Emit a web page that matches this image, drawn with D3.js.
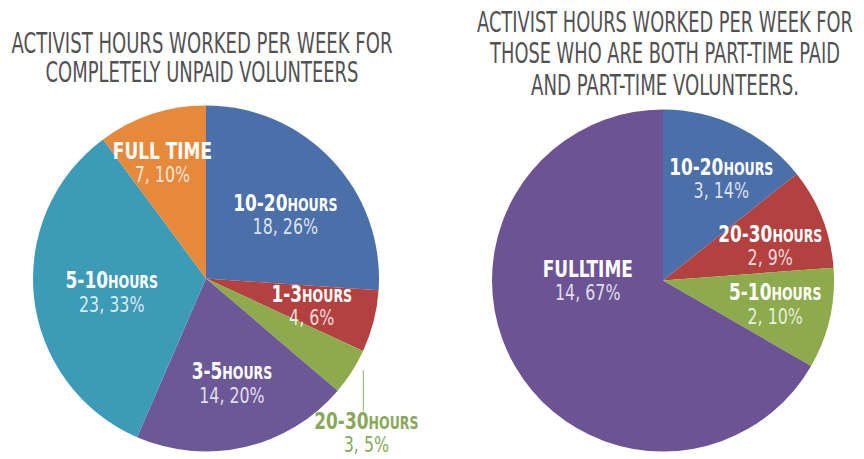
<!DOCTYPE html>
<html>
<head>
<meta charset="utf-8">
<script src="https://cdn.jsdelivr.net/npm/d3@7/dist/d3.min.js"></script>
<style>
  body { margin: 0; background: #fff; }
  svg { display: block; }
</style>
</head>
<body>
<div id="chart"></div>
<script>
// Left pie: completely unpaid volunteers
const unpaidCategories = ['10-20HOURS', '1-3HOURS', '20-30HOURS', '3-5HOURS', '5-10HOURS', 'FULL TIME'];
const unpaidCounts = [18, 4, 3, 14, 23, 7];
const unpaidPercents = [26, 6, 5, 20, 33, 10];
const unpaidTitle = ['ACTIVIST HOURS WORKED PER WEEK FOR', 'COMPLETELY UNPAID VOLUNTEERS'];

// Right pie: part-time paid + part-time volunteers
const mixedCategories = ['10-20HOURS', '20-30HOURS', '5-10HOURS', 'FULLTIME'];
const mixedCounts = [3, 2, 2, 14];
const mixedPercents = [14, 9, 10, 67];
const mixedTitle = ['ACTIVIST HOURS WORKED PER WEEK FOR', 'THOSE WHO ARE BOTH PART-TIME PAID', 'AND PART-TIME VOLUNTEERS.'];

const width = 864, height = 459;
const FONT = "'Liberation Sans Narrow', 'DejaVu Sans Condensed', 'Arial Narrow', sans-serif";
const LABEL_SQUEEZE = 0.82;

const svg = d3.select('#chart').append('svg')
  .attr('width', width)
  .attr('height', height);

// label placement: radius factor + angle (deg, clockwise from top), or outside leader
const unpaidLayout = {
  cx: 206, cy: 278.5, r: 173,
  colors: ['#4a6fa9', '#b3413f', '#8dab4d', '#6c5896', '#3c9bb7', '#e6893b'],
  labels: [
    { k: 0.59, angle: 51 }, { k: 0.63, angle: 104 }, { outside: true },
    { k: 0.62, angle: 166 }, { k: 0.55, angle: 262 }, { k: 0.72, angle: 339.5 }
  ],
  titleX: 202, titleY: [53, 82], titleLen: [381, 313]
};

const mixedLayout = {
  cx: 663, cy: 280.5, r: 171,
  colors: ['#4a6fa9', '#b3413f', '#8dab4d', '#6c5494'],
  labels: [
    { k: 0.69, angle: 29.6 }, { k: 0.66, angle: 71.9 },
    { k: 0.67, angle: 101.6 }, { k: 0.44, angle: 270 }
  ],
  titleX: 665, titleY: [31.7, 63.3, 95], titleLen: [376, 350, 268]
};

function drawTitle(lines, layout) {
  lines.forEach((line, i) => {
    const g = svg.append('g');
    const t = g.append('text')
      .attr('x', 0)
      .attr('y', 0)
      .attr('text-anchor', 'middle')
      .style('font-family', FONT)
      .style('font-size', '27.5px')
      .style('fill', '#525252')
      .text(line);
    // squeeze horizontally to the condensed width of the original lettering
    const sx = layout.titleLen[i] / t.node().getComputedTextLength();
    g.attr('transform', `translate(${layout.titleX},${layout.titleY[i]}) scale(${sx},1)`);
  });
}

function addLabel(g, x, y, name, count, pct, color, valueColor) {
  const parts = name.match(/^(.*?)(HOURS)?$/);
  const lg = g.append('g')
    .attr('transform', `translate(${x},${y}) scale(${LABEL_SQUEEZE},1)`);

  const t = lg.append('text')
    .attr('text-anchor', 'middle')
    .style('font-family', FONT)
    .style('font-weight', 'bold')
    .style('fill', color);
  t.append('tspan').style('font-size', '23px').text(parts[1]);
  if (parts[2]) t.append('tspan').style('font-size', '17px').text(parts[2]);

  lg.append('text')
    .attr('y', 23.3)
    .attr('text-anchor', 'middle')
    .style('font-family', FONT)
    .style('font-size', '21.5px')
    .style('fill', valueColor)
    .text(`${count}, ${pct}%`);
}

function drawPie(categories, counts, percents, layout) {
  const data = categories.map((c, i) => ({
    name: c, count: counts[i], pct: percents[i],
    color: layout.colors[i], label: layout.labels[i]
  }));

  const pie = d3.pie().sort(null).value(d => d.count);
  const arc = d3.arc().innerRadius(0).outerRadius(layout.r);
  const arcs = pie(data);

  const g = svg.append('g')
    .attr('transform', `translate(${layout.cx},${layout.cy})`);

  g.selectAll('path.slice')
    .data(arcs)
    .join('path')
    .attr('class', 'slice')
    .attr('d', arc)
    .attr('fill', d => d.data.color);

  arcs.forEach(a => {
    const spec = a.data.label;
    if (spec.outside) {
      // leader line straight down from just outside the slice
      const mid = (a.startAngle + a.endAngle) / 2;
      const rr = layout.r * 1.08;
      const px = rr * Math.sin(mid), py = -rr * Math.cos(mid);
      g.append('line')
        .attr('x1', px).attr('x2', px)
        .attr('y1', py - 9).attr('y2', py + 32)
        .attr('stroke', '#a3bb78')
        .attr('stroke-width', 1.2);
      addLabel(g, px + 3, py + 50, a.data.name, a.data.count, a.data.pct, '#8aa85a', '#8aa85a');
      return;
    }
    const ang = spec.angle * Math.PI / 180;
    const rr = spec.k * layout.r;
    const x = rr * Math.sin(ang), y = -rr * Math.cos(ang);
    addLabel(g, x, y - 3.3, a.data.name, a.data.count, a.data.pct, '#ffffff', 'rgba(255,255,255,0.82)');
  });
}

drawTitle(unpaidTitle, unpaidLayout);
drawTitle(mixedTitle, mixedLayout);
drawPie(unpaidCategories, unpaidCounts, unpaidPercents, unpaidLayout);
drawPie(mixedCategories, mixedCounts, mixedPercents, mixedLayout);
</script>
</body>
</html>
